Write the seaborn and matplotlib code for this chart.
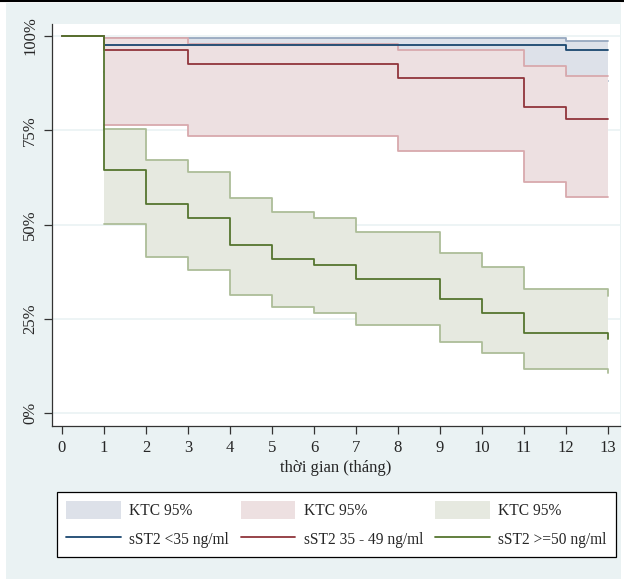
import numpy as np
import pandas as pd
import matplotlib
matplotlib.use("Agg")
import matplotlib.pyplot as plt
from matplotlib.patches import Patch, Rectangle
from matplotlib.lines import Line2D
import seaborn as sns

# survival curves (post-step values, %)
t_low = [0, 1, 12, 13]
s_low = [100, 97.7, 96.3, 96.3]
t_mid = [0, 1, 3, 8, 11, 12, 13]
s_mid = [100, 96.4, 92.7, 88.9, 81.2, 77.9, 77.9]
t_high = [0, 1, 2, 3, 4, 5, 6, 7, 9, 10, 11, 13]
s_high = [100, 64.4, 55.4, 51.8, 44.7, 41.0, 39.3, 35.7, 30.3, 26.7, 21.4, 19.6]

# 95% confidence bands
ci_t_low = [1, 12, 13]
ci_up_low = [99.4, 98.8, 98.8]
ci_lo_low = [90.5, 88.0, 88.0]
ci_t_mid = [1, 3, 8, 11, 12, 13]
ci_up_mid = [99.5, 98.0, 96.4, 92.0, 89.4, 89.4]
ci_lo_mid = [76.5, 73.5, 69.4, 61.2, 57.2, 57.2]
ci_t_high = [1, 2, 3, 4, 5, 6, 7, 9, 10, 11, 13]
ci_up_high = [75.4, 67.2, 63.9, 57.1, 53.4, 51.7, 48.1, 42.6, 38.8, 32.9, 31.0]
ci_lo_high = [50.3, 41.4, 38.0, 31.3, 28.1, 26.5, 23.4, 18.8, 15.9, 11.8, 10.6]

group_labels = ["sST2 <35 ng/ml", "sST2 35 - 49 ng/ml", "sST2 >=50 ng/ml"]
ci_label = "KTC 95%"
x_ticks = list(range(0, 14))
y_ticks = [0, 25, 50, 75, 100]
x_title = "thời gian (tháng)"

line_cols = ["#1a476f", "#90353b", "#55752f"]
fill_cols = ["#dde1e9", "#ede0e1", "#e6e9e0"]
edge_cols = ["#97a8bf", "#d8a9ad", "#adbd98"]
bg = "#eaf2f3"
fs = 12
leg_fs = 11.2

sns.set_theme(style="white")
plt.rcParams["font.family"] = ["Liberation Serif", "DejaVu Serif"]

fig = plt.figure(figsize=(6.24, 5.79), dpi=100, facecolor="white")
fig.patches.append(Rectangle((6 / 624, 0), 615 / 624, 1 - 3 / 579, transform=fig.transFigure,
                             facecolor=bg, edgecolor="none", zorder=-10))
fig.add_artist(Line2D([0, 1], [1 - 0.7 / 579, 1 - 0.7 / 579], color="black", lw=1.5,
                      transform=fig.transFigure))

ax = fig.add_axes([52 / 624, 1 - 426 / 579, 568 / 624, 402 / 579])
ax.set_facecolor("white")

bands = [(ci_t_low, ci_lo_low, ci_up_low), (ci_t_mid, ci_lo_mid, ci_up_mid),
         (ci_t_high, ci_lo_high, ci_up_high)]
curves = [(t_low, s_low), (t_mid, s_mid), (t_high, s_high)]

for yv in y_ticks:
    ax.axhline(yv, color=bg, lw=1.2, zorder=0)

for i, (bt, blo, bup) in enumerate(bands):
    ax.fill_between(bt, blo, bup, step="post", color=fill_cols[i], lw=0, zorder=1 + i)
    for edge in (blo, bup):
        d = pd.DataFrame({"t": bt, "s": edge})
        sns.lineplot(data=d, x="t", y="s", ax=ax, color=edge_cols[i], lw=1.3,
                     drawstyle="steps-post", estimator=None, sort=False, zorder=1 + i)

for i, (ct, cs) in enumerate(curves):
    d = pd.DataFrame({"t": ct, "s": cs})
    sns.lineplot(data=d, x="t", y="s", ax=ax, color=line_cols[i], lw=1.3,
                 drawstyle="steps-post", estimator=None, sort=False, zorder=10)

ax.set_xlim(-10 / 42, 13 + 12 / 42)
ax.set_ylim(-12.7 / 3.767, 100 + 12 / 3.767)
ax.set_xticks(x_ticks)
ax.set_xticklabels([str(v) for v in x_ticks], fontsize=fs)
ax.set_yticks(y_ticks)
ax.set_yticklabels([f"{v}%" for v in y_ticks], fontsize=fs, rotation=90, va="center")
ax.tick_params(axis="both", direction="out", length=6, width=0.9, color="#333333",
               left=True, bottom=True, pad=4)
ax.set_xlabel(x_title, fontsize=fs, labelpad=3)
ax.set_ylabel("")
for side in ("top", "right"):
    ax.spines[side].set_visible(False)
for side in ("left", "bottom"):
    ax.spines[side].set_color("#333333")
    ax.spines[side].set_linewidth(0.9)

handles, labels = [], []
for i in range(3):
    handles.append(Patch(facecolor=fill_cols[i], edgecolor="none"))
    labels.append(ci_label)
    handles.append(Line2D([], [], color=line_cols[i], lw=1.3))
    labels.append(group_labels[i])

leg = fig.legend(handles, labels, ncol=3, loc="upper left",
                 bbox_to_anchor=(57 / 624, 1 - 492 / 579),
                 fontsize=leg_fs, frameon=True, fancybox=False, handlelength=3.5,
                 handleheight=1.34, handletextpad=0.56, labelspacing=0.7,
                 borderpad=0.6, borderaxespad=0, columnspacing=0.75)
leg.get_frame().set_edgecolor("black")
leg.get_frame().set_linewidth(0.9)
leg.get_frame().set_facecolor("white")
leg.get_frame().set_alpha(1)

fig.savefig("out.png", dpi=100, facecolor=fig.get_facecolor())
